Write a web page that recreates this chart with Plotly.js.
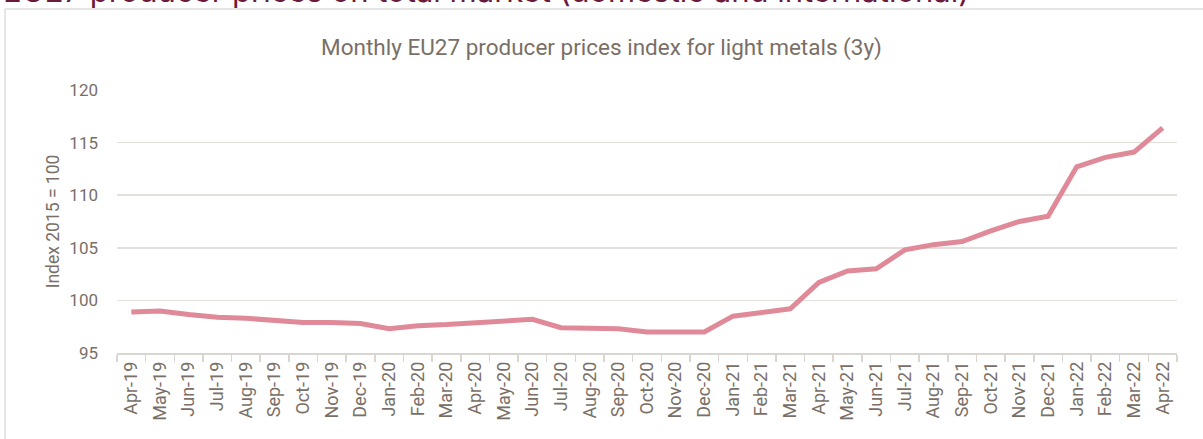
<!DOCTYPE html>
<html>
<head>
<meta charset="utf-8">
<script src="https://cdn.plot.ly/plotly-3.0.1.min.js"></script>
<style>html,body{margin:0;padding:0;background:#fff;}#chart{width:1203px;height:439px;}</style>
</head>
<body>
<div id="chart"></div>
<script>
const months = ["Apr-19","May-19","Jun-19","Jul-19","Aug-19","Sep-19","Oct-19","Nov-19","Dec-19",
  "Jan-20","Feb-20","Mar-20","Apr-20","May-20","Jun-20","Jul-20","Aug-20","Sep-20","Oct-20","Nov-20","Dec-20",
  "Jan-21","Feb-21","Mar-21","Apr-21","May-21","Jun-21","Jul-21","Aug-21","Sep-21","Oct-21","Nov-21","Dec-21",
  "Jan-22","Feb-22","Mar-22","Apr-22"];
const priceIndex = [98.9,99.0,98.65,98.4,98.3,98.15,97.9,97.9,97.8,
  97.3,97.6,97.7,97.9,98.05,98.2,97.4,97.3,97.3,97.0,97.0,97.0,
  98.5,98.8,99.2,101.7,102.8,103.0,104.8,105.3,105.6,106.6,107.5,108.0,
  112.7,113.6,114.1,116.4];
const yTicks = [95,100,105,110,115,120];

const textColor = "#7a6f67";
const fontFam = "Roboto, sans-serif";

const trace = {
  x: months, y: priceIndex, type: "scatter", mode: "lines",
  line: {color: "#e08a99", width: 5},
  hoverinfo: "x+y"
};

const layout = {
  width: 1203, height: 439,
  margin: {l: 117, r: 26, t: 90, b: 86},
  paper_bgcolor: "#fff", plot_bgcolor: "#fff",
  font: {family: fontFam, color: textColor},
  showlegend: false,
  title: {text: "Monthly EU27 producer prices index for light metals (3y)",
    font: {size: 22.5, color: textColor, family: fontFam},
    x: 0.5, xanchor: "center", y: 1 - 47/439, yanchor: "middle", yref: "container"},
  xaxis: {
    type: "category", range: [-0.5, months.length - 0.5], tickangle: -90, tickson: "boundaries",
    ticks: "outside", ticklen: 7, tickcolor: "#d9d5d1", tickwidth: 1.5,
    showline: true, linecolor: "#d9d5d1", linewidth: 1.5,
    showgrid: false, tickfont: {size: 18, color: textColor}, fixedrange: true
  },
  yaxis: {
    range: [95, 120], tickvals: yTicks, ticktext: yTicks.map(String),
    showgrid: true, gridcolor: "#e3dfdb", gridwidth: 1.5, zeroline: false,
    showline: false, ticks: "", ticklabelstandoff: 18,
    tickfont: {size: 17, color: textColor},
    title: {text: "Index 2015 = 100", font: {size: 17.5, color: textColor}, standoff: 5},
    fixedrange: true
  },
  shapes: [
    {type: "line", xref: "paper", yref: "paper", x0: (5-117)/1060, x1: 1.1, y0: (353-9)/263, y1: (353-9)/263,
     line: {color: "#dcdcdc", width: 1.5}},
    {type: "line", xref: "paper", yref: "paper", x0: (5-117)/1060, x1: (5-117)/1060, y0: -0.5, y1: (353-9)/263,
     line: {color: "#dcdcdc", width: 1.5}}
  ],
  annotations: [
    {text: "EU27 producer prices on total market (domestic and international)",
     xref: "paper", yref: "paper", x: (1-117)/1060, xanchor: "left",
     y: (353-11)/263, yanchor: "bottom", showarrow: false,
     font: {size: 31, color: "#6a1b3c", family: "Inter, sans-serif"}}
  ]
};

Plotly.newPlot("chart", [trace], layout, {displayModeBar: false, staticPlot: true});
</script>
</body>
</html>
